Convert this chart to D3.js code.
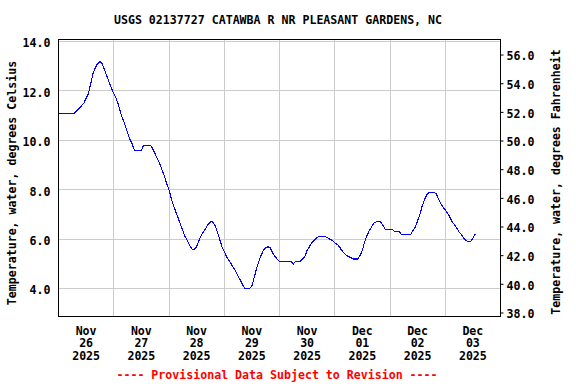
<!DOCTYPE html>
<html>
<head>
<meta charset="utf-8">
<script src="https://cdn.jsdelivr.net/npm/d3@7"></script>
<style>
  html, body { margin: 0; padding: 0; background: #fff; }
  svg text { font-family: 'DejaVu Sans Mono', monospace; font-weight: bold; font-size: 11.6px; fill: #000; }
</style>
</head>
<body>
<svg id="chart" width="576" height="384"></svg>
<script>
// Water temperature, hourly readings (deg C), one array per day
const nov26 = [11.1, 11.1, 11.1, 11.1, 11.1, 11.1, 11.1, 11.1, 11.2, 11.3, 11.4, 11.5, 11.7, 11.9, 12.3, 12.7, 12.95, 13.1, 13.2, 13.1, 12.85, 12.6, 12.35, 12.1];
const nov27 = [11.9, 11.7, 11.45, 11.1, 10.85, 10.6, 10.3, 10.05, 9.85, 9.6, 9.6, 9.6, 9.6, 9.8, 9.8, 9.8, 9.8, 9.65, 9.45, 9.25, 9.05, 8.8, 8.55, 8.25];
const nov28 = [8.0, 7.65, 7.35, 7.1, 6.85, 6.6, 6.35, 6.1, 5.95, 5.75, 5.6, 5.6, 5.7, 5.95, 6.15, 6.3, 6.45, 6.6, 6.7, 6.7, 6.55, 6.3, 6.0, 5.7];
const nov29 = [5.5, 5.3, 5.15, 5.0, 4.85, 4.7, 4.5, 4.35, 4.15, 4.0, 4.0, 4.0, 4.1, 4.45, 4.8, 5.1, 5.35, 5.55, 5.65, 5.7, 5.65, 5.45, 5.3, 5.2];
const nov30 = [5.1, 5.1, 5.1, 5.1, 5.1, 5.1, 5.0, 5.1, 5.1, 5.1, 5.2, 5.3, 5.55, 5.7, 5.85, 5.95, 6.05, 6.1, 6.1, 6.1, 6.1, 6.05, 6.0, 5.95];
const dec01 = [5.85, 5.8, 5.7, 5.55, 5.45, 5.35, 5.3, 5.25, 5.2, 5.2, 5.2, 5.35, 5.55, 5.9, 6.15, 6.35, 6.5, 6.65, 6.7, 6.7, 6.7, 6.55, 6.4, 6.4];
const dec02 = [6.4, 6.4, 6.3, 6.3, 6.3, 6.2, 6.2, 6.2, 6.2, 6.2, 6.35, 6.5, 6.75, 7.0, 7.35, 7.6, 7.8, 7.9, 7.9, 7.9, 7.85, 7.65, 7.45, 7.3];
const dec03 = [7.2, 7.05, 6.9, 6.7, 6.6, 6.45, 6.3, 6.2, 6.05, 5.95, 5.9, 5.9, 6.05, 6.2];

const dayStarts = ['2025-11-26', '2025-11-27', '2025-11-28', '2025-11-29', '2025-11-30', '2025-12-01', '2025-12-02', '2025-12-03'];
const dayLabels = [['Nov', '26', '2025'], ['Nov', '27', '2025'], ['Nov', '28', '2025'], ['Nov', '29', '2025'],
                   ['Nov', '30', '2025'], ['Dec', '01', '2025'], ['Dec', '02', '2025'], ['Dec', '03', '2025']];
const celsiusTicks = [4, 6, 8, 10, 12, 14];
const fahrenheitTicks = [38, 40, 42, 44, 46, 48, 50, 52, 54, 56];

const title = 'USGS 02137727 CATAWBA R NR PLEASANT GARDENS, NC';
const leftLabel = 'Temperature, water, degrees Celsius';
const rightLabel = 'Temperature, water, degrees Fahrenheit';
const footer = '---- Provisional Data Subject to Revision ----';

const parseDay = d3.timeParse('%Y-%m-%d');
const days = [nov26, nov27, nov28, nov29, nov30, dec01, dec02, dec03];
const data = [];
days.forEach((vals, i) => {
  const start = parseDay(dayStarts[i]);
  vals.forEach((v, h) => data.push({ t: d3.timeHour.offset(start, h), c: v }));
});

const svg = d3.select('#chart');
const margin = { top: 39, right: 76, bottom: 68, left: 58 };
const width = 576 - margin.left - margin.right;
const height = 384 - margin.top - margin.bottom;

const x = d3.scaleTime()
  .domain([parseDay(dayStarts[0]), d3.timeDay.offset(parseDay(dayStarts[7]), 1)])
  .range([0, width]);
const yC = d3.scaleLinear().domain([2.875, 14.08]).range([height, 0]);
const yF = d3.scaleLinear().domain([37.72, 57.05]).range([height, 0]);

const g = svg.append('g').attr('transform', `translate(${margin.left + 0.5},${margin.top + 0.5})`);

// grid lines
g.append('g')
  .selectAll('line')
  .data(celsiusTicks)
  .join('line')
  .attr('x1', 0).attr('x2', width)
  .attr('y1', d => Math.round(yC(d))).attr('y2', d => Math.round(yC(d)))
  .attr('stroke', '#cccccc');

g.append('g')
  .selectAll('line')
  .data(dayStarts.slice(1).map(parseDay))
  .join('line')
  .attr('x1', d => Math.round(x(d))).attr('x2', d => Math.round(x(d)))
  .attr('y1', 0).attr('y2', height)
  .attr('stroke', '#cccccc');

// data line
const line = d3.line()
  .x(d => x(d.t))
  .y(d => yC(d.c));

g.append('path')
  .datum(data)
  .attr('fill', 'none')
  .attr('stroke', '#0000ff')
  .attr('stroke-width', 1.1)
  .attr('shape-rendering', 'crispEdges')
  .attr('d', line);

// frame
g.append('rect')
  .attr('x', 0).attr('y', 0)
  .attr('width', width).attr('height', height)
  .attr('fill', 'none')
  .attr('stroke', '#000');

// left axis
const leftAxis = g.append('g')
  .call(d3.axisLeft(yC).tickValues(celsiusTicks).tickSize(0).tickPadding(8).tickFormat(d3.format('.1f')));
leftAxis.select('.domain').remove();
leftAxis.selectAll('text').attr('font-size', null).attr('font-family', null).attr('dy', '0.45em');

// right axis
const rightAxis = g.append('g')
  .attr('transform', `translate(${width},0)`)
  .call(d3.axisRight(yF).tickValues(fahrenheitTicks).tickSize(3).tickPadding(3).tickFormat(d3.format('.1f')));
rightAxis.select('.domain').remove();
rightAxis.selectAll('text').attr('font-size', null).attr('font-family', null).attr('dy', '0.45em');

// x labels at noon of each day
const xLabels = g.append('g').attr('transform', `translate(0,${height})`);
dayStarts.forEach((d, i) => {
  const noon = d3.timeHour.offset(parseDay(d), 12);
  const t = xLabels.append('text')
    .attr('text-anchor', 'middle')
    .attr('x', x(noon))
    .attr('y', 18);
  dayLabels[i].forEach((s, j) => {
    t.append('tspan').attr('x', x(noon)).attr('dy', j === 0 ? 0 : 12.7).text(s);
  });
});

// titles
svg.append('text')
  .attr('x', 278).attr('y', 24)
  .attr('text-anchor', 'middle')
  .text(title);

svg.append('text')
  .attr('transform', 'translate(16,183) rotate(-90)')
  .attr('text-anchor', 'middle')
  .text(leftLabel);

svg.append('text')
  .attr('transform', 'translate(560,182) rotate(-90)')
  .attr('text-anchor', 'middle')
  .text(rightLabel);

svg.append('text')
  .attr('x', 277).attr('y', 379)
  .attr('text-anchor', 'middle')
  .style('fill', '#ff0000')
  .text(footer);
</script>
</body>
</html>
